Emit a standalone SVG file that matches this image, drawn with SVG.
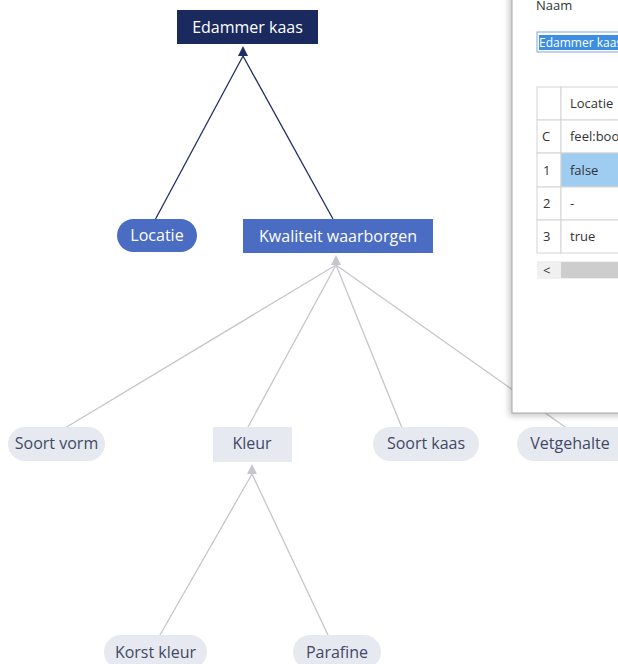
<svg xmlns="http://www.w3.org/2000/svg" width="618" height="664" viewBox="0 0 618 664">
<defs>
<filter id="sh" x="-20%" y="-5%" width="140%" height="110%"><feGaussianBlur stdDeviation="3"/></filter>
</defs>
<style>
text{font-family:"Open Sans","Noto Sans","Liberation Sans",sans-serif;font-size:16px;}
.w{fill:#ffffff;text-anchor:middle;}
.g{fill:#3f4966;text-anchor:middle;}
.pill{fill:#e7e9f0;}
.navy{stroke:#1f2f66;stroke-width:1.3;fill:none;}
.grey{stroke:#c4c6cc;stroke-width:1.3;fill:none;}
.d{fill:#333333;font-size:13px;}
.cell{fill:#ffffff;stroke:#d4d4d4;stroke-width:1;}
</style>
<rect width="618" height="664" fill="#ffffff"/>
<g id="connectors">
<line class="navy" x1="243" y1="56" x2="155" y2="220"/>
<line class="navy" x1="243" y1="56" x2="333" y2="219"/>
<path d="M238,56 L243,46 L248,56 Z" fill="#1f2f66"/>
<line class="grey" x1="336" y1="265" x2="65" y2="428"/>
<line class="grey" x1="336" y1="265" x2="248" y2="427"/>
<line class="grey" x1="336" y1="265" x2="402" y2="428"/>
<line class="grey" x1="336" y1="265" x2="568" y2="429"/>
<path d="M331,265 L336,255 L341,265 Z" fill="#c4c6cc"/>
<line class="grey" x1="252" y1="474" x2="160" y2="635"/>
<line class="grey" x1="252" y1="474" x2="328" y2="635"/>
<path d="M247,474 L252,464 L257,474 Z" fill="#c4c6cc"/>
</g>
<g id="edammer"><rect x="177" y="10" width="141" height="34" fill="#1a2a5e"/><text class="w" x="247.5" y="33">Edammer kaas</text></g>
<g id="locatie"><rect x="117" y="219" width="80" height="33" rx="16.5" fill="#4a6cc3"/><text class="w" x="157" y="241">Locatie</text></g>
<g id="kwaliteit"><rect x="243" y="219" width="190" height="34" fill="#4a6cc3"/><text class="w" x="338" y="242">Kwaliteit waarborgen</text></g>
<g id="soortvorm"><rect class="pill" x="8" y="427" width="97" height="34" rx="17"/><text class="g" x="56.5" y="449">Soort vorm</text></g>
<g id="kleur"><rect class="pill" x="213" y="427" width="79" height="35"/><text class="g" x="252" y="449">Kleur</text></g>
<g id="soortkaas"><rect class="pill" x="373" y="427" width="106" height="34" rx="17"/><text class="g" x="426" y="449">Soort kaas</text></g>
<g id="vetgehalte"><rect class="pill" x="517" y="427" width="120" height="34" rx="17"/><text class="g" x="570" y="449">Vetgehalte</text></g>
<g id="korstkleur"><rect class="pill" x="104" y="635" width="103" height="34" rx="17"/><text class="g" x="155.5" y="658">Korst kleur</text></g>
<g id="parafine"><rect class="pill" x="293" y="635" width="88" height="34" rx="17"/><text class="g" x="337" y="658">Parafine</text></g>
<g id="dialog">
<rect x="509" y="-5" width="120" height="421" fill="#000000" opacity="0.22" filter="url(#sh)"/>
<rect x="512" y="-2" width="120" height="415" fill="#ffffff" stroke="#a8a8a8" stroke-width="1"/>
<text class="d" x="536" y="10">Naam</text>
<rect x="537" y="32" width="90" height="20" fill="#ffffff" stroke="#7aa7d8" stroke-width="1"/>
<rect x="539" y="35" width="82" height="15" fill="#3d8ee0"/>
<text x="539" y="47" style="font-size:12px;fill:#ffffff;">Edammer kaas</text>
<rect class="cell" x="537" y="87" width="24" height="33"/><rect class="cell" x="561" y="87" width="70" height="33"/>
<rect class="cell" x="537" y="120" width="24" height="33"/><rect class="cell" x="561" y="120" width="70" height="33"/>
<rect class="cell" x="537" y="153" width="24" height="34"/><rect x="561" y="153" width="70" height="34" fill="#9fcdf2" stroke="#d4d4d4"/>
<rect class="cell" x="537" y="187" width="24" height="33"/><rect class="cell" x="561" y="187" width="70" height="33"/>
<rect class="cell" x="537" y="220" width="24" height="33"/><rect class="cell" x="561" y="220" width="70" height="33"/>
<text class="d" x="570" y="108">Locatie</text>
<text class="d" x="542" y="141">C</text><text class="d" x="570" y="141">feel:boolean</text>
<text class="d" x="543" y="175">1</text><text class="d" x="570" y="175">false</text>
<text class="d" x="543" y="208">2</text><text class="d" x="570" y="208">-</text>
<text class="d" x="543" y="241">3</text><text class="d" x="570" y="241">true</text>
<rect x="537" y="261" width="90" height="18" fill="#f0f0f0"/>
<rect x="561" y="262" width="70" height="16" fill="#cdcdcd"/>
<text class="d" x="543" y="275">&lt;</text>
</g>
</svg>
